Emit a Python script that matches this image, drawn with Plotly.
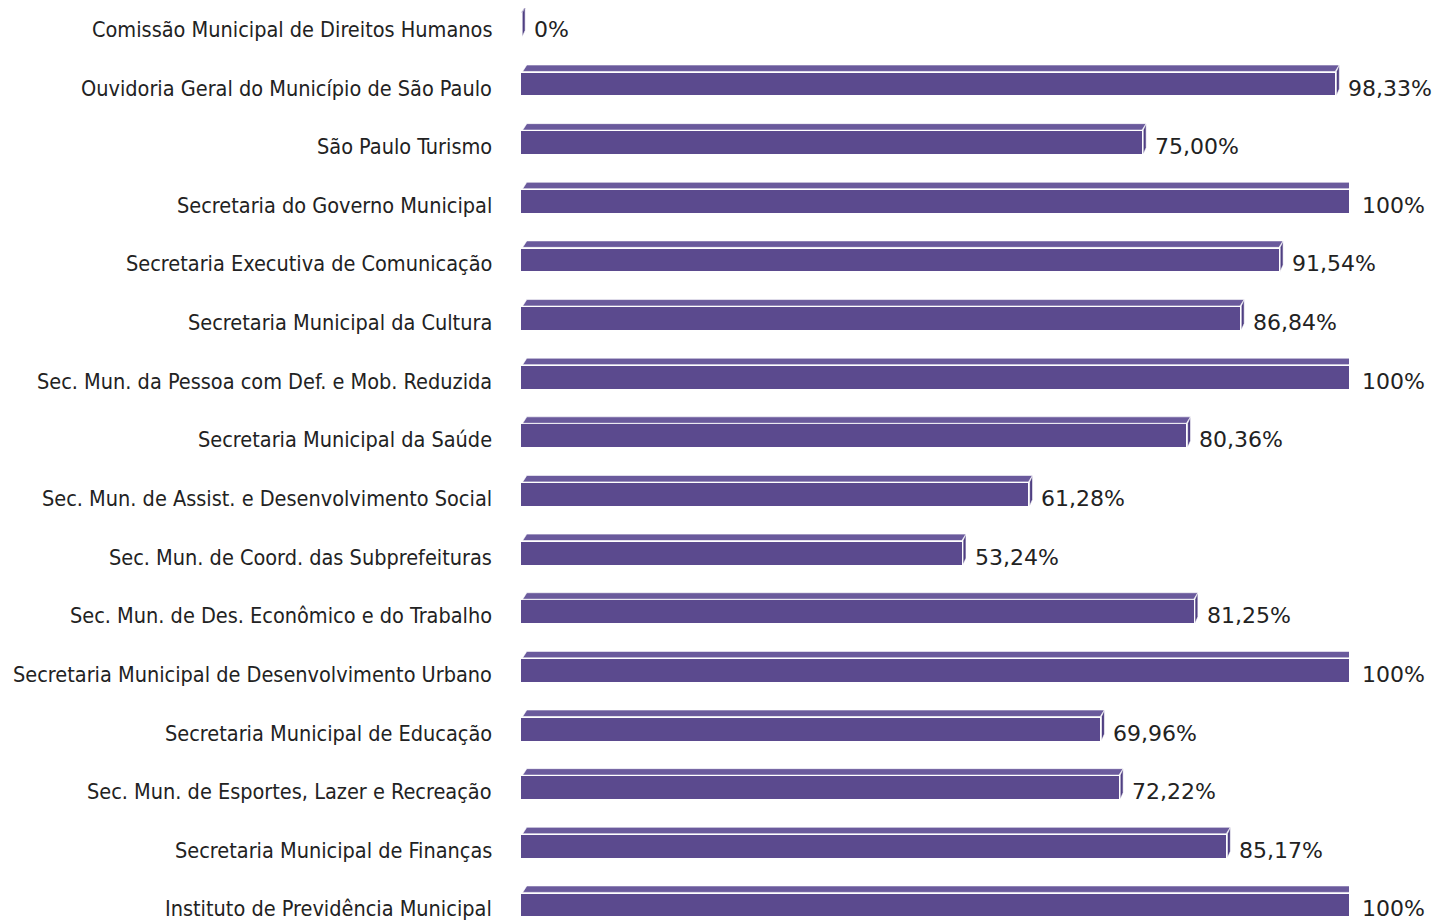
import plotly.graph_objects as go

categories = [
    "Comissão Municipal de Direitos Humanos",
    "Ouvidoria Geral do Município de São Paulo",
    "São Paulo Turismo",
    "Secretaria do Governo Municipal",
    "Secretaria Executiva de Comunicação",
    "Secretaria Municipal da Cultura",
    "Sec. Mun. da Pessoa com Def. e Mob. Reduzida",
    "Secretaria Municipal da Saúde",
    "Sec. Mun. de Assist. e Desenvolvimento Social",
    "Sec. Mun. de Coord. das Subprefeituras",
    "Sec. Mun. de Des. Econômico e do Trabalho",
    "Secretaria Municipal de Desenvolvimento Urbano",
    "Secretaria Municipal de Educação",
    "Sec. Mun. de Esportes, Lazer e Recreação",
    "Secretaria Municipal de Finanças",
    "Instituto de Previdência Municipal",
]
values = [0, 98.33, 75.00, 100, 91.54, 86.84, 100, 80.36, 61.28, 53.24, 81.25, 100, 69.96, 72.22, 85.17, 100]
value_labels = ["0%", "98,33%", "75,00%", "100%", "91,54%", "86,84%", "100%", "80,36%",
                "61,28%", "53,24%", "81,25%", "100%", "69,96%", "72,22%", "85,17%", "100%"]

PURPLE = "#5b4a8e"
TOP = "#6a5a9c"
SIDE = "#4f3f82"
TEXT = "#222222"

rows = list(range(len(categories)))
half = 0.195   # half bar thickness (y units)
dx = 0.5       # 3D depth in x units
dy = 0.11      # 3D depth in y units
gap = 0.02

fig = go.Figure()

# top faces
tx, ty = [], []
for i, v in zip(rows, values):
    top = i - half - gap
    tx += [0.2, v, v + dx, 0.2 + dx, 0.2, None]
    ty += [top, top, top - dy, top - dy, top, None]
fig.add_trace(go.Scatter(x=tx, y=ty, fill="toself", fillcolor=TOP, mode="lines",
                         line=dict(color="white", width=0.6), hoverinfo="skip", showlegend=False))

# side faces
sx, sy = [], []
for i, v in zip(rows, values):
    top = i - half - gap
    bot = i + half
    sx += [v + 0.15, v + 0.15, v + dx, v + dx, v + 0.15, None]
    sy += [bot, top, top - dy, bot - dy, bot, None]
fig.add_trace(go.Scatter(x=sx, y=sy, fill="toself", fillcolor=SIDE, mode="lines",
                         line=dict(color="white", width=0.6), hoverinfo="skip", showlegend=False))

# front faces
fig.add_trace(go.Bar(x=values, y=rows, orientation="h", width=2 * half,
                     marker=dict(color=PURPLE, line=dict(width=0)),
                     hoverinfo="skip", showlegend=False))

for i, v, t in zip(rows, values, value_labels):
    fig.add_annotation(x=v, y=i, text=t, showarrow=False, xanchor="left",
                       xshift=11, yshift=-4,
                       font=dict(family="DejaVu Sans", size=22, color=TEXT))

for i, c in zip(rows, categories):
    fig.add_annotation(x=0, xref="paper", y=i, text=c, showarrow=False, xanchor="right",
                       xshift=-27, yshift=-4,
                       font=dict(family="DejaVu Sans Condensed", size=21.5, color=TEXT))

fig.update_layout(
    width=1432, height=914,
    margin=dict(l=513, r=91, t=0, b=0),
    paper_bgcolor="white", plot_bgcolor="white",
    xaxis=dict(range=[0, 100], visible=False, showgrid=False, zeroline=False),
    yaxis=dict(range=[15.29, -0.297], visible=False,
               showgrid=False, zeroline=False, showline=False),
    bargap=0,
)

fig.write_html("out.html")
